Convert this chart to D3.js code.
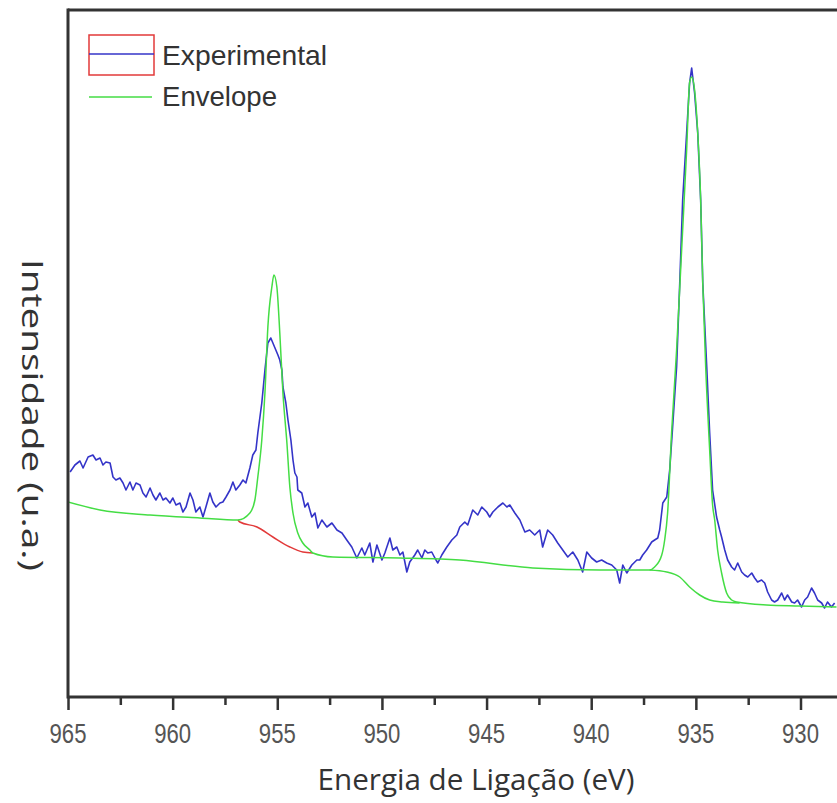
<!DOCTYPE html>
<html><head><meta charset="utf-8">
<script src="https://cdn.jsdelivr.net/npm/d3@7"></script>
<style>html,body{margin:0;padding:0;background:#fff;}svg{display:block;}</style>
</head><body>
<svg id="chart" width="837" height="803"></svg>
<script>
// Binding energy (eV) and intensity (arbitrary units)
const experimental = [
[964.90,223],[964.67,230],[964.43,234],[964.28,227],[964.04,238],[963.81,240],[963.66,235],[963.47,237],[963.33,230],[963.19,233],
[962.99,232],[962.85,218],[962.71,215],[962.52,217],[962.37,212],[962.23,205],[962.04,213],[961.90,205],[961.75,212],[961.56,210],
[961.42,202],[961.27,198],[961.08,207],[960.94,200],[960.80,195],[960.61,202],[960.46,195],[960.32,197],[960.13,192],[959.99,197],
[959.84,190],[959.65,192],[959.51,183],[959.36,188],[959.17,202],[959.03,195],[958.89,183],[958.70,188],[958.55,178],[958.41,188],
[958.22,202],[958.08,193],[957.93,188],[957.74,192],[957.60,193],[957.45,198],[957.26,205],[957.12,213],[956.98,205],[956.79,210],
[956.64,215],[956.50,212],[956.31,227],[956.17,240],[956.02,245],[955.93,262],[955.74,292],[955.59,325],[955.45,352],[955.31,357],
[955.21,352],[955.07,345],[954.97,340],[954.88,335],[954.78,325],[954.73,308],[954.59,292],[954.49,275],[954.35,255],[954.25,235],
[954.16,222],[954.06,218],[954.02,205],[953.83,202],[953.68,188],[953.54,192],[953.35,178],[953.20,182],[953.06,167],[952.87,175],
[952.63,168],[952.39,172],[952.15,165],[951.91,162],[951.68,155],[951.44,148],[951.20,137],[950.96,147],[950.82,140],[950.58,152],
[950.43,133],[950.24,150],[950.00,135],[949.86,142],[949.62,157],[949.48,145],[949.29,148],[949.14,140],[949.00,143],[948.81,123],
[948.67,133],[948.43,140],[948.29,145],[948.09,137],[947.95,145],[947.81,142],[947.62,143],[947.47,137],[947.33,132],[947.14,140],
[946.90,148],[946.66,155],[946.42,160],[946.28,168],[946.04,173],[945.90,170],[945.66,185],[945.42,180],[945.23,188],[944.99,183],
[944.85,178],[944.70,183],[944.46,188],[944.22,192],[944.03,188],[943.89,190],[943.65,182],[943.41,175],[943.17,163],[942.94,165],
[942.70,160],[942.46,165],[942.32,148],[942.08,165],[941.84,160],[941.60,152],[941.36,145],[941.12,138],[940.88,143],[940.64,135],
[940.41,123],[940.21,143],[939.98,137],[939.74,133],[939.50,135],[939.26,132],[939.02,130],[938.78,125],[938.64,112],[938.49,130],
[938.30,122],[938.06,130],[937.82,135],[937.68,135],[937.54,140],[937.35,145],[937.11,153],[936.97,155],[936.82,157],[936.73,165],
[936.58,192],[936.39,198],[936.25,225],[936.11,268],[935.92,328],[935.77,412],[935.63,495],[935.44,562],[935.30,612],[935.20,627],
[935.06,602],[934.91,562],[934.77,495],[934.67,412],[934.48,328],[934.34,262],[934.20,205],[934.01,178],[933.86,165],[933.77,158],
[933.62,145],[933.48,135],[933.29,128],[933.15,125],[933.00,132],[932.81,123],[932.67,120],[932.52,118],[932.33,122],[932.19,117],
[932.05,113],[931.86,115],[931.71,112],[931.57,103],[931.38,95],[931.24,93],[931.09,95],[930.90,102],[930.76,95],[930.62,100],
[930.42,93],[930.28,92],[930.14,95],[929.95,88],[929.80,95],[929.66,98],[929.47,107],[929.33,102],[929.18,95],[928.99,92],
[928.85,87],[928.71,93],[928.52,88],[928.37,92]
];
const envelope = [
[965.00,193],[963.47,185],[961.08,180],[958.70,177],[956.88,175],[956.31,182],[956.07,195],[955.93,218],[955.74,255],[955.59,302],
[955.45,368],[955.26,408],[955.16,420],[955.02,408],[954.88,362],[954.73,302],[954.54,252],[954.40,208],[954.25,182],[954.02,162],
[953.78,152],[953.44,145],[953.30,142],[952.34,138],[949.14,137],[946.28,135],[942.79,127],[939.59,125],[937.21,125],[936.97,128],
[936.63,140],[936.49,155],[936.35,182],[936.16,262],[935.92,345],[935.68,445],[935.44,545],[935.30,612],[935.20,618],[935.06,605],
[934.91,562],[934.77,495],[934.67,412],[934.53,328],[934.34,245],[934.20,190],[934.10,175],[933.96,145],[933.77,122],[933.53,102],
[933.29,95],[933.05,93],[931.62,90],[930.04,89],[928.28,88]
];
const backgroundMain = [
[937.21,125],[936.39,123],[935.77,118],[935.30,108],[934.82,100],[934.34,95],[933.72,93],[932.91,92]
];
const backgroundSat = [
[956.88,175],[956.79,173],[955.97,168],[955.21,158],[954.40,148],[953.78,143],[953.30,142]
];
const xTicks = [965, 960, 955, 950, 945, 940, 935, 930];
const xMinorTicks = [962.5, 957.5, 952.5, 947.5, 942.5, 937.5, 932.5];
const legendLabels = ["Experimental", "Envelope"];
const xTitle = "Energia de Ligação (eV)";
const yTitle = "Intensidade (u.a.)";

const svg = d3.select("#chart");
const padL = 68, padT = 10, axisY = 697, axisRight = 800.5, W = 837;
const x = d3.scaleLinear().domain([965, 930]).range([padL, axisRight]);
const y = d3.scaleLinear().domain([0, 685]).range([695, padT]);

const plot = svg.append("g");
plot.append("defs").append("clipPath").attr("id","clip")
  .append("rect").attr("x", padL+1).attr("y", padT+1).attr("width", W-padL).attr("height", axisY-padT-2);

const line = d3.line().x(d=>x(d[0])).y(d=>y(d[1]));
const smooth = d3.line().x(d=>x(d[0])).y(d=>y(d[1])).curve(d3.curveMonotoneX);
const g = plot.append("g").attr("clip-path","url(#clip)");
g.append("path").datum(experimental).attr("d", line)
  .attr("fill","none").attr("stroke","#3434c8").attr("stroke-width",1.6).attr("stroke-linejoin","round");
g.append("path").datum(backgroundSat).attr("d", smooth)
  .attr("fill","none").attr("stroke","#e23a3a").attr("stroke-width",1.5);
g.append("path").datum(backgroundMain).attr("d", smooth)
  .attr("fill","none").attr("stroke","#44dd44").attr("stroke-width",1.5);
g.append("path").datum(envelope).attr("d", smooth)
  .attr("fill","none").attr("stroke","#44dd44").attr("stroke-width",1.5);

// frame
svg.append("line").attr("x1",padL).attr("x2",padL).attr("y1",padT-1.5).attr("y2",axisY+1.5)
  .attr("stroke","#333").attr("stroke-width",3);
svg.append("line").attr("x1",padL).attr("x2",W).attr("y1",padT).attr("y2",padT)
  .attr("stroke","#333").attr("stroke-width",3);

// x axis
const axis = d3.axisBottom(x).tickValues(xTicks).tickSize(13).tickPadding(0).tickFormat(()=> "");
const ag = svg.append("g").attr("transform",`translate(0,${axisY})`).call(axis);
ag.select(".domain").remove();
ag.selectAll(".tick line").attr("stroke","#333").attr("stroke-width",2.5);
ag.append("line").attr("x1",padL).attr("x2",W).attr("y1",0).attr("y2",0).attr("stroke","#333").attr("stroke-width",3);
const minor = d3.axisBottom(x).tickValues(xMinorTicks).tickSize(8).tickFormat(()=> "");
const mg = svg.append("g").attr("transform",`translate(0,${axisY})`).call(minor);
mg.select(".domain").remove();
mg.selectAll(".tick line").attr("stroke","#333").attr("stroke-width",2.5);

svg.append("g").selectAll("text").data(xTicks).join("text")
  .attr("transform", d=>`translate(${x(d)},743) scale(0.82,1)`)
  .attr("text-anchor","middle")
  .attr("font-family","Liberation Sans, Arial, sans-serif").attr("font-size",27)
  .attr("fill","#555").text(d=>d);

svg.append("text").attr("x", 476).attr("y", 790).attr("text-anchor","middle")
  .attr("font-family","Open Sans, sans-serif").attr("font-size",30).attr("fill","#333")
  .attr("textLength",317).attr("lengthAdjust","spacingAndGlyphs").text(xTitle);

svg.append("text").attr("transform","translate(22,415) rotate(90)").attr("text-anchor","middle")
  .attr("font-family","Open Sans, sans-serif").attr("font-size",30).attr("fill","#333")
  .attr("textLength",312).attr("lengthAdjust","spacingAndGlyphs").text(yTitle);

// legend
const lg = svg.append("g");
lg.append("rect").attr("x",89).attr("y",35).attr("width",65).attr("height",40)
  .attr("fill","none").attr("stroke","#e23a3a").attr("stroke-width",1.5);
lg.append("line").attr("x1",89).attr("x2",154).attr("y1",54).attr("y2",54)
  .attr("stroke","#3434c8").attr("stroke-width",1.5);
lg.append("line").attr("x1",89).attr("x2",152).attr("y1",97).attr("y2",97)
  .attr("stroke","#44dd44").attr("stroke-width",1.5);
lg.selectAll("text").data(legendLabels).join("text")
  .attr("x",162).attr("y",(d,i)=> i===0 ? 65 : 106)
  .attr("font-family","Liberation Sans, Arial, sans-serif").attr("font-size",28).attr("fill","#333")
  .attr("textLength",(d,i)=> i===0 ? 165 : 115).attr("lengthAdjust","spacingAndGlyphs")
  .text(d=>d);
</script>
</body></html>
